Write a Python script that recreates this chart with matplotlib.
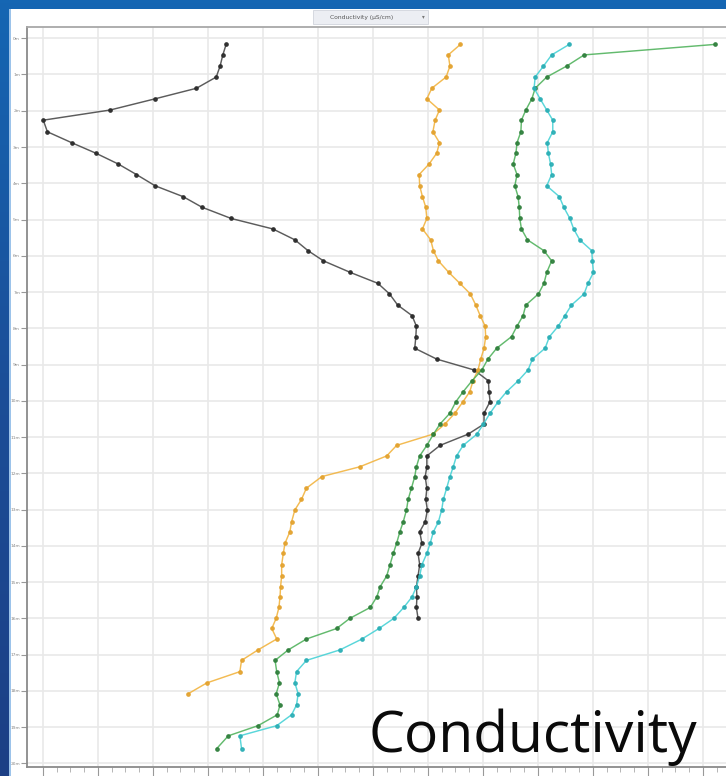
import numpy as np
import matplotlib
matplotlib.use("Agg")
import matplotlib.pyplot as plt
from matplotlib.patches import Rectangle
from matplotlib.colors import LinearSegmentedColormap

# depth samples (m)
depth = [0.17, 0.46, 0.77, 1.07, 1.38, 1.67, 1.98, 2.26, 2.58, 2.88, 3.17, 3.47, 3.76, 4.07,
         4.37, 4.66, 4.97, 5.26, 5.56, 5.86, 6.14, 6.46, 6.76, 7.05, 7.36, 7.65, 7.94, 8.23,
         8.55, 8.85, 9.15, 9.45, 9.75, 10.02, 10.34, 10.64, 10.92, 11.23, 11.52, 11.82, 12.09,
         12.41, 12.72, 13.01, 13.34, 13.61, 13.93, 14.21, 14.52, 14.83, 15.13, 15.41, 15.70,
         16.00, 16.28, 16.57, 16.87, 17.16, 17.47, 17.78, 18.08, 18.39, 18.66, 18.96, 19.24, 19.59]

black = [33.3, 32.7, 32.2, 31.5, 27.9, 20.4, 12.2, 0.05, 0.8, 5.2, 9.6, 13.7, 17.0, 20.4, 25.5,
         28.9, 34.2, 41.8, 45.8, 48.2, 51.0, 55.9, 60.9, 63.0, 64.5, 67.1, 67.9, 67.8, 67.6,
         71.6, 78.4, 81.0, 81.1, 81.3, 80.2, 80.2, 77.3, 72.2, 69.8, 69.8, 69.5, 69.8, 69.6,
         69.9, 69.5, 68.5, 68.9, 68.2, 68.5, 68.2, 67.9, 68.0, 67.9, 68.2]

orange = [75.9, 73.7, 74.0, 73.3, 70.7, 69.8, 72.1, 71.3, 70.9, 72.1, 71.6, 70.2, 68.4, 68.5,
          69.0, 69.6, 69.8, 69.0, 70.5, 71.0, 71.9, 73.8, 75.8, 77.7, 78.7, 79.5, 80.4, 80.5,
          80.2, 79.6, 79.1, 78.2, 77.6, 76.4, 74.9, 73.1, 70.9, 64.3, 62.5, 57.6, 50.7, 47.9,
          47.0, 45.8, 45.2, 44.9, 44.0, 43.7, 43.4, 43.4, 43.2, 43.1, 42.9, 42.4, 41.6, 42.5,
          39.1, 36.1, 35.8, 29.8, 26.4]

green = [122.2, 98.4, 95.2, 91.6, 89.5, 88.9, 87.8, 87.0, 86.9, 86.2, 86.0, 85.5, 86.2, 85.8,
         86.4, 86.6, 86.7, 87.0, 88.1, 91.1, 92.5, 91.6, 91.1, 90.1, 87.8, 87.3, 86.2, 85.2,
         82.5, 80.9, 79.8, 78.0, 76.4, 75.1, 74.0, 72.2, 71.0, 69.8, 68.5, 67.9, 67.6, 67.0,
         66.4, 66.1, 65.5, 64.9, 64.3, 63.7, 63.1, 62.5, 61.3, 60.7, 59.5, 55.8, 53.4, 47.9,
         44.6, 42.2, 42.5, 43.0, 42.4, 43.1, 42.6, 39.1, 33.7, 31.6]

cyan = [95.7, 92.5, 91.0, 89.5, 89.3, 90.4, 91.6, 92.7, 92.7, 91.7, 91.9, 92.3, 92.5, 91.6,
        93.9, 94.7, 95.8, 96.5, 97.6, 99.8, 99.9, 100.1, 99.1, 98.4, 96.1, 94.9, 93.7, 92.1,
        91.3, 89.0, 88.2, 86.4, 84.3, 82.8, 81.3, 80.1, 78.9, 76.4, 75.2, 74.6, 74.0, 73.4,
        72.8, 72.5, 71.9, 71.0, 70.4, 69.8, 68.9, 68.5, 67.9, 67.1, 65.6, 63.8, 61.1, 58.0,
        54.0, 47.9, 46.1, 45.8, 46.4, 46.1, 45.2, 42.5, 35.8, 36.1]

ytick_labels = [f"{i}m" for i in range(21)]
title_text = "Conductivity (µS/cm)"
big_text = "Conductivity"

W, H = 726, 776
fig = plt.figure(figsize=(W / 100, H / 100), dpi=100)

# background: blue window frame gradient
bg = fig.add_axes([0, 0, 1, 1])
grad = np.linspace(0, 1, 256).reshape(-1, 1)
cmap = LinearSegmentedColormap.from_list("b", ["#1566b3", "#1b4e98", "#1d3f85"])
bg.imshow(grad, aspect="auto", cmap=cmap, extent=[0, 1, 0, 1], origin="upper")
bg.set_xlim(0, 1); bg.set_ylim(0, 1)
bg.axis("off")
bg.add_patch(Rectangle((10 / W, 0), 1, 1 - 9 / H, facecolor="white", edgecolor="none"))
bg.add_patch(Rectangle((9 / W, 0), 1.5 / W, 1 - 9 / H, facecolor="#9cc3ea", edgecolor="none"))

# title box
bg.add_patch(Rectangle((313 / W, 1 - 24 / H), 115 / W, 14 / H, facecolor="#eceef3",
                       edgecolor="#d0d4dc", linewidth=0.6))
bg.text(362 / W, 1 - 17 / H, title_text, fontsize=4.3, color="#555555",
        ha="center", va="center", family="DejaVu Sans")
bg.text(423 / W, 1 - 17 / H, "\u25be", fontsize=4, color="#777777",
        ha="center", va="center", family="DejaVu Sans")

ax = fig.add_axes([27 / W, 1 - 767 / H, (W - 27) / W, (767 - 27) / H])
ax.set_facecolor("none")
ax.set_xlim(-2.91, 124.2)
ax.set_ylim(20.1, -0.31)

ax.set_xticks(np.arange(0, 125, 10))
ax.set_xticks(np.arange(0, 125, 2.5), minor=True)
ax.set_xticklabels([])
ax.set_yticks(np.arange(0, 21, 1))
ax.set_yticklabels(ytick_labels, fontsize=3.2, color="#888888")
ax.grid(True, which="major", color="#e9e9e9", linewidth=1.2)
ax.set_axisbelow(True)
ax.tick_params(axis="y", length=4, width=0.8, color="#999999", pad=1)
ax.tick_params(axis="x", which="major", length=7, width=0.8, color="#999999")
ax.tick_params(axis="x", which="minor", length=3.5, width=0.6, color="#aaaaaa")
for s in ["left", "bottom"]:
    ax.spines[s].set_color("#8a8a8a")
    ax.spines[s].set_linewidth(1.3)
ax.spines["top"].set_color("#a8a8a8")
ax.spines["top"].set_linewidth(1.3)
ax.spines["right"].set_visible(False)

series = [
    (black, "#4a4a4a", "#2a2a2a"),
    (orange, "#f2b440", "#e3a22e"),
    (green, "#52b35e", "#2f7f3c"),
    (cyan, "#48d2d6", "#2aaeb5"),
]
for vals, lc, mc in series:
    ax.plot(vals, depth[:len(vals)], color=lc, linewidth=1.05, alpha=0.9,
            marker="o", markersize=2.4, markerfacecolor=mc, markeredgecolor=mc, zorder=3)

fig.text(368 / W, 1 - 752 / H, big_text, fontsize=41, family="Open Sans",
         color="#0a0a0a", ha="left", va="baseline")

fig.savefig("out.png", dpi=100)
